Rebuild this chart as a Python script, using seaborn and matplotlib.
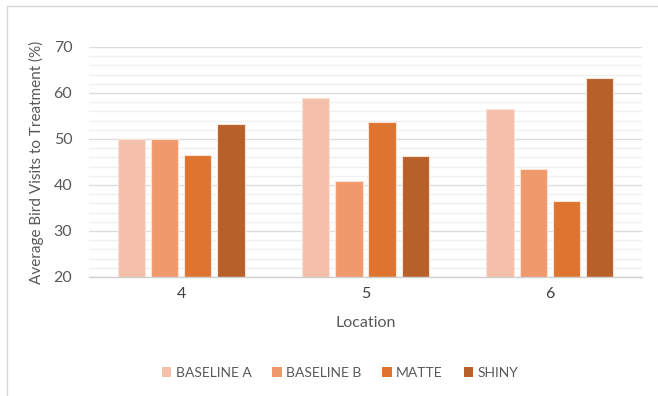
import matplotlib
matplotlib.use("Agg")
import matplotlib.pyplot as plt
from matplotlib.lines import Line2D
from matplotlib.patches import Patch
from matplotlib.ticker import MultipleLocator
import pandas as pd
import seaborn as sns

locations = ["4", "5", "6"]
treatments = ["BASELINE A", "BASELINE B", "MATTE", "SHINY"]
baseline_a = [49.9, 58.9, 56.5]
baseline_b = [49.9, 40.9, 43.4]
matte = [46.6, 53.7, 36.6]
shiny = [53.3, 46.2, 63.2]
colors = ["#F4C0AB", "#F0996D", "#DF7430", "#B8602A"]

rows = []
for name, vals in zip(treatments, [baseline_a, baseline_b, matte, shiny]):
    for loc, v in zip(locations, vals):
        rows.append({"Location": loc, "Treatment": name, "Value": v})
df = pd.DataFrame(rows)

sns.set_theme(style="white")
plt.rcParams["font.family"] = ["Lato", "DejaVu Sans"]

fig = plt.figure(figsize=(6.58, 3.96), dpi=100)
ax = fig.add_axes([89 / 658, 1 - 277 / 396, (642 - 89) / 658, (277 - 47) / 396])

sns.barplot(data=df, x="Location", y="Value", hue="Treatment",
            hue_order=treatments, order=locations, palette=colors,
            saturation=1, width=0.72, gap=0.18, ax=ax, legend=False,
            linewidth=0.8, edgecolor="#FBE3D8")

# Bars start from the axis floor at 20
for p in ax.patches:
    h = p.get_height()
    p.set_y(20)
    p.set_height(h - 20)

ax.set_ylim(20, 70)
ax.yaxis.set_major_locator(MultipleLocator(10))
ax.yaxis.set_minor_locator(MultipleLocator(2))
ax.grid(axis="y", which="major", color="#DCDCDC", linewidth=1.0)
ax.grid(axis="y", which="minor", color="#F0F0F0", linewidth=1.0)
ax.set_axisbelow(True)
for s in ["top", "right", "left"]:
    ax.spines[s].set_visible(False)
ax.spines["bottom"].set_color("#D0D0D0")
ax.spines["bottom"].set_linewidth(1.0)

ax.tick_params(axis="y", which="both", length=0, labelsize=11.5,
               labelcolor="#595959", pad=12)
ax.tick_params(axis="x", length=0, labelsize=11.5, labelcolor="#404040", pad=7)
ax.set_xlabel("Location", fontsize=11.5, color="#595959", labelpad=11)
ax.set_ylabel("Average Bird Visits to Treatment (%)", fontsize=11,
              color="#595959", labelpad=7)

handles = [Patch(facecolor=c, edgecolor="none") for c in colors]
fig.legend(handles, treatments, loc="center", bbox_to_anchor=(340 / 658, 1 - 373 / 396),
           ncol=4, frameon=False, fontsize=10, labelcolor="#595959",
           handlelength=0.7, handleheight=0.7, handletextpad=0.3,
           columnspacing=1.5)

# Light frame lines along the top and left edges
fig.add_artist(Line2D([6.5 / 658, 6.5 / 658], [0, 1 - 5.5 / 396],
                      transform=fig.transFigure, color="#D9D9D9", linewidth=1))
fig.add_artist(Line2D([6.5 / 658, 1], [1 - 5.5 / 396, 1 - 5.5 / 396],
                      transform=fig.transFigure, color="#D9D9D9", linewidth=1))

fig.savefig("out.png", dpi=100)
